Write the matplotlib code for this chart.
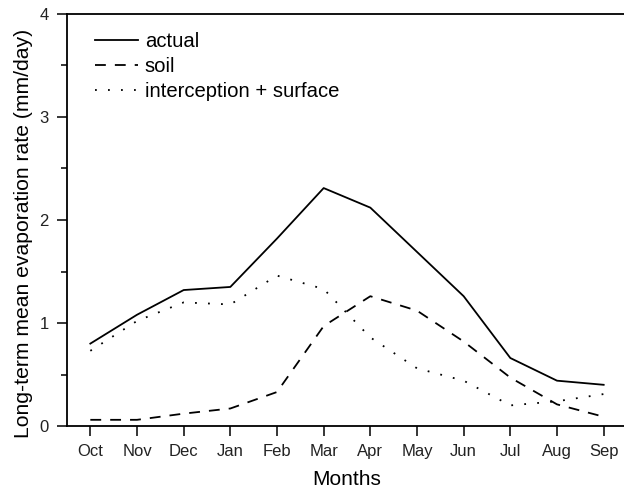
#!/usr/bin/env python

import matplotlib
matplotlib.use('Agg')
import matplotlib.pyplot as plt
from matplotlib.ticker import MultipleLocator

months = ['Oct', 'Nov', 'Dec', 'Jan', 'Feb', 'Mar',
          'Apr', 'May', 'Jun', 'Jul', 'Aug', 'Sep']

# long-term mean evaporation (mm/day)
actual = [0.80, 1.08, 1.32, 1.35, 1.82, 2.31, 2.12, 1.69, 1.26, 0.66, 0.44, 0.40]
soil = [0.06, 0.06, 0.12, 0.17, 0.33, 0.97, 1.26, 1.12, 0.82, 0.47, 0.21, 0.09]
interception = [0.73, 1.02, 1.20, 1.18, 1.46, 1.33, 0.86, 0.56, 0.44, 0.20, 0.24, 0.31]


def main():
    plt.rcParams['font.family'] = 'Liberation Sans'

    fig = plt.figure(figsize=(6.24, 4.94), dpi=100)
    ax = fig.add_axes([67 / 624, 68 / 494, 560 / 624, 412 / 494])

    x = range(len(months))
    ax.plot(x, actual, color='black', lw=1.3, ls='-', label='actual')
    ax.plot(x, soil, color='black', lw=1.3, ls=(0, (6, 5)), label='soil')
    ax.plot(x, interception, color='black', lw=1.3, ls=(0, (1, 6.2)),
            label='interception + surface')

    ax.set_xlim(-0.5, 11.5)
    ax.set_ylim(0, 4)
    ax.set_xticks(list(x))
    ax.set_xticklabels(months)
    ax.yaxis.set_major_locator(MultipleLocator(1))
    ax.yaxis.set_minor_locator(MultipleLocator(0.5))

    ax.spines['right'].set_visible(False)
    for side in ['left', 'bottom', 'top']:
        ax.spines[side].set_linewidth(1.3)
    ax.tick_params(axis='both', which='major', direction='out', length=7,
                   width=1.1, labelsize=12, colors='black',
                   labelcolor='#222222', pad=6)
    ax.tick_params(axis='y', which='minor', direction='out', length=4, width=1.1)

    ax.set_xlabel('Months', fontsize=15)
    ax.xaxis.set_label_coords(0.5, -0.108)
    ax.set_ylabel('Long-term mean evaporation rate (mm/day)', fontsize=15.2)
    ax.yaxis.set_label_coords(-0.061, 0.467)

    ax.legend(loc='upper left', frameon=False, fontsize=14.6,
              handlelength=2.1, handletextpad=0.35, labelspacing=0.29,
              bbox_to_anchor=(0.025, 0.99), borderaxespad=0.3)

    fig.savefig('out.png', dpi=100)


if __name__ == '__main__':
    main()
